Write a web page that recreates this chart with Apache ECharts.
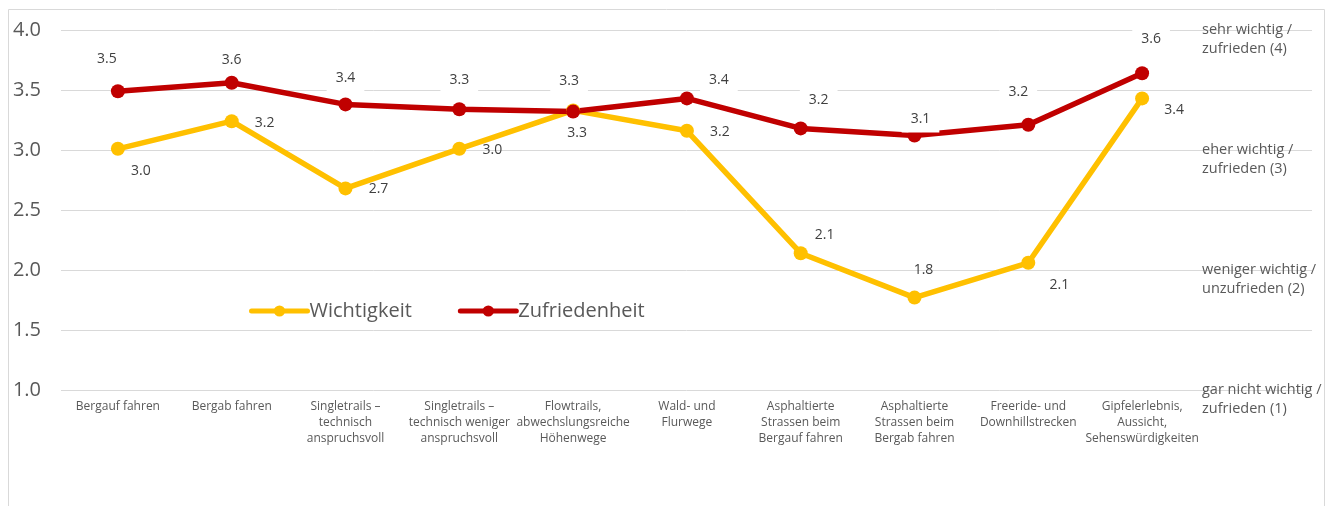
<!DOCTYPE html>
<html>
<head>
<meta charset="utf-8">
<script src="https://cdn.jsdelivr.net/npm/echarts@6/dist/echarts.min.js"></script>
<style>
  html, body { margin: 0; padding: 0; background: #fff; }
  #chart { width: 1339px; height: 506px; }
</style>
</head>
<body>
<div id="chart"></div>
<script>
// Kategorien (x-Achse)
const categories = [
  'Bergauf fahren',
  'Bergab fahren',
  'Singletrails –\ntechnisch\nanspruchsvoll',
  'Singletrails –\ntechnisch weniger\nanspruchsvoll',
  'Flowtrails,\nabwechslungsreiche\nHöhenwege',
  'Wald- und\nFlurwege',
  'Asphaltierte\nStrassen beim\nBergauf fahren',
  'Asphaltierte\nStrassen beim\nBergab fahren',
  'Freeride- und\nDownhillstrecken',
  'Gipfelerlebnis,\nAussicht,\nSehenswürdigkeiten'
];
const wichtigkeit = [3.01, 3.24, 2.68, 3.01, 3.33, 3.16, 2.14, 1.77, 2.06, 3.43];
const zufriedenheit = [3.49, 3.56, 3.38, 3.34, 3.32, 3.43, 3.18, 3.12, 3.21, 3.64];
const scaleLabels = {
  4: 'sehr wichtig /\nzufrieden (4)',
  3: 'eher wichtig /\nzufrieden (3)',
  2: 'weniger wichtig /\nunzufrieden (2)',
  1: 'gar nicht wichtig /\nzufrieden (1)'
};

// Label-Verschiebung wie im Original (px)
const wOffset = [[23, 22], [33, 2], [33, 1], [33, 1], [4, 23], [33, 1], [24, -18], [9, -28], [31, 22], [32, 12]];
const zOffset = [[-11, -32], [0, -23], [0, -26], [0, -29], [-4, -31], [32, -18], [18, -28], [6, -17], [-10, -33], [9, -34]];

const font = '"Open Sans", "Noto Sans", sans-serif';
const grey = '#595959';

const labelBase = {
  show: true,
  position: 'inside',
  color: '#404040',
  fontSize: 14,
  fontFamily: font,
  formatter: p => p.value.toFixed(1)
};

const toData = (vals, offs) => vals.map((v, i) => ({ value: v, label: { offset: offs[i] } }));

const chart = echarts.init(document.getElementById('chart'));
chart.setOption({
  animation: false,
  textStyle: { fontFamily: font },
  graphic: [{
    type: 'rect',
    z: -10,
    shape: { x: 8.5, y: 9.5, width: 1316, height: 600 },
    style: { fill: 'none', stroke: '#d9d9d9', lineWidth: 1 }
  }],
  legend: {
    left: 249, top: 301, padding: 0,
    itemWidth: 56, itemHeight: 14, itemGap: 46,
    lineStyle: { width: 5, cap: 'round' },
    textStyle: { fontSize: 20, color: grey, fontFamily: font, padding: [0, 0, 0, -3] },
    data: ['Wichtigkeit', 'Zufriedenheit']
  },
  grid: [
    { left: 61, right: 140, top: 30, bottom: 116 },
    { left: 61, right: 27, top: 30, bottom: 116 }
  ],
  xAxis: [
    {
      type: 'category', gridIndex: 0, data: categories,
      axisLine: { show: false }, axisTick: { show: false },
      axisLabel: { interval: 0, margin: 9, fontSize: 12, lineHeight: 16, color: grey, fontFamily: font }
    },
    { type: 'value', gridIndex: 1, min: 0, max: 1, show: false }
  ],
  yAxis: [
    { type: 'value', gridIndex: 0, min: 1, max: 4, show: false },
    {
      type: 'value', gridIndex: 0, position: 'right', min: 1, max: 4, interval: 1,
      axisLine: { show: false }, axisTick: { show: false }, splitLine: { show: false },
      axisLabel: {
        margin: 3, fontSize: 14.5, lineHeight: 19, color: grey, fontFamily: font, align: 'left',
        formatter: v => '\n' + (scaleLabels[v] || '')
      }
    },
    {
      type: 'value', gridIndex: 1, min: 1, max: 4, interval: 0.5,
      axisLine: { show: false }, axisTick: { show: false },
      splitLine: { lineStyle: { color: '#d9d9d9', width: 1 } },
      axisLabel: { margin: 20, fontSize: 20, color: grey, fontFamily: font, formatter: v => v.toFixed(1) }
    }
  ],
  series: [
    {
      name: 'Wichtigkeit', type: 'line', xAxisIndex: 0, yAxisIndex: 0,
      data: toData(wichtigkeit, wOffset),
      symbol: 'circle', symbolSize: 14,
      itemStyle: { color: '#FFC000' },
      lineStyle: { color: '#FFC000', width: 5.5 },
      label: labelBase
    },
    {
      name: 'Zufriedenheit', type: 'line', xAxisIndex: 0, yAxisIndex: 0,
      data: toData(zufriedenheit, zOffset),
      symbol: 'circle', symbolSize: 14,
      itemStyle: { color: '#C00000' },
      lineStyle: { color: '#C00000', width: 5.5 },
      label: Object.assign({}, labelBase, { backgroundColor: '#fff', padding: [7, 9] })
    }
  ]
});
</script>
</body>
</html>
